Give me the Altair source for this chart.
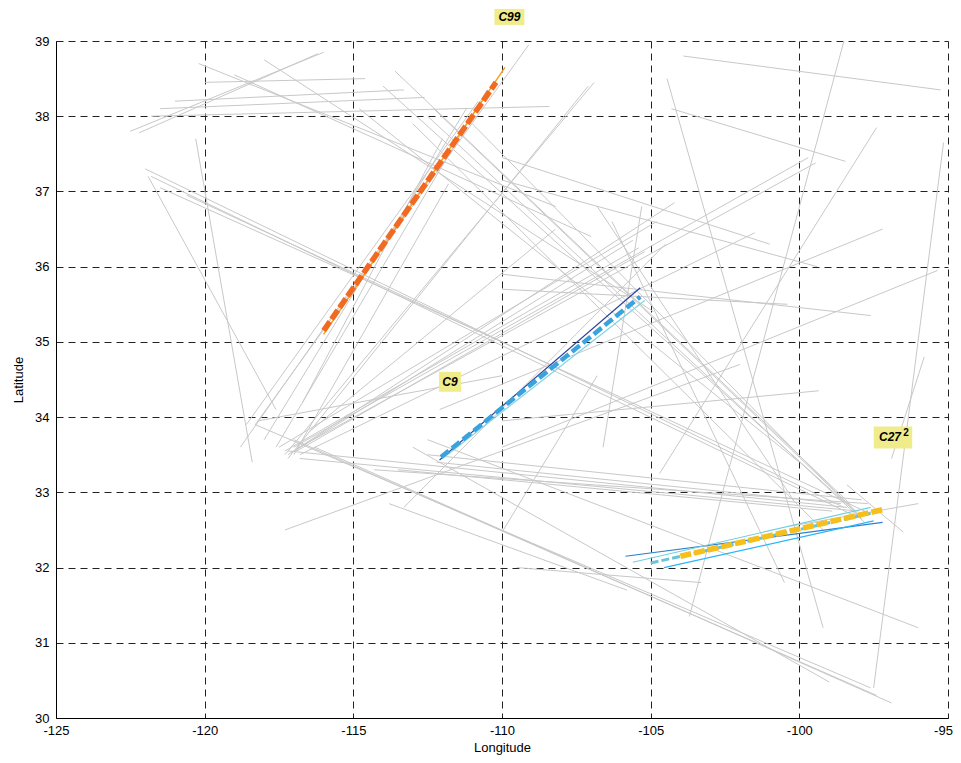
import altair as alt
import pandas as pd

# ---------------- gray background tracks (lon1, lat1, lon2, lat2) ----------------
g_lon1 = [-122.5, -122.2, -120.2, -119.0, -121.5, -121.0, -121.8, -120.0, -118.0, -113.6,
          -114.0, -112.5, -113.0, -114.8,
          -122.0, -121.8, -121.5, -120.6, -120.3, -121.9,
          -117.3, -117.2, -117.3, -117.2, -117.0, -116.9, -116.8, -117.5, -116.5, -118.0,
          -118.8, -118.6, -116.7, -118.3,
          -118.3, -117.0, -116.3, -113.0, -112.5, -117.2, -116.8, -114.3, -112.2, -112.5,
          -113.5, -113.8, -117.3, -118.2, -113.3, -110.0,
          -103.9, -104.45, -98.5, -97.4, -95.15, -95.8, -97.2, -95.35, -110.0, -110.0,
          -104.3, -110.0, -110.0, -106.8, -106.3, -110.0, -96.0, -98.4, -109.5,
          -117.1, -116.9, -105.3, -117.6, -117.0, -112.3, -111.0]
g_lat1 = [37.8, 37.78, 38.7, 38.55, 38.1, 38.2, 38.0, 38.45, 38.75, 38.6,
          38.4, 38.0, 37.9, 38.1,
          37.3, 37.2, 37.05, 36.95, 37.7, 37.2,
          33.5, 33.45, 33.55, 33.5, 33.6, 33.58, 33.5, 33.6, 33.8, 33.7,
          33.6, 33.9, 34.2, 33.9,
          33.9, 33.7, 33.6, 33.6, 33.7, 33.55, 33.45, 33.3, 33.4, 33.5,
          33.3, 32.85, 32.5, 33.95, 32.8, 32.47,
          38.8, 38.5, 39.0, 37.85, 37.65, 34.8, 36.5, 35.95, 35.9, 35.7,
          38.1, 37.45, 37.15, 36.8, 36.6, 33.95, 32.85, 33.1, 32.0,
          33.52, 33.55, 36.8, 33.6, 33.5, 38.1, 37.9]
g_lon2 = [-116.0, -116.2, -108.2, -107.0, -112.6, -113.3, -108.4, -114.6, -104.9, -98.3,
          -98.0, -97.8, -99.2, -100.0,
          -98.5, -98.2, -110.0, -97.8, -118.4, -117.6,
          -106.9, -107.1, -105.4, -104.2, -99.7, -99.45, -101.5, -104.8, -108.2, -111.2,
          -111.0, -110.8, -112.0, -109.1,
          -97.6, -97.4, -96.9, -99.0, -96.0, -98.4, -98.0, -97.7, -98.6, -97.9,
          -98.9, -105.8, -102.0, -110.0, -104.5, -106.8,
          -95.25, -99.2, -103.7, -104.7, -97.5, -96.9, -112.1, -110.0, -97.6, -100.4,
          -98.45, -101.0, -99.4, -100.2, -100.5, -99.35, -100.3, -96.5, -103.3,
          -105.6, -105.2, -106.6, -110.5, -111.8, -98.1, -97.9]
g_lat2 = [38.85, 38.83, 36.8, 36.4, 38.25, 38.35, 38.13, 38.5, 35.4, 32.85,
          32.7, 32.6, 32.5, 33.4,
          32.8, 32.7, 35.0, 32.75, 33.4, 34.1,
          38.45, 38.4, 36.25, 36.85, 37.45, 37.38, 36.45, 36.6, 36.5, 38.1,
          38.0, 38.2, 37.7, 38.95,
          30.4, 30.3, 30.2, 30.48, 31.2, 32.8, 32.75, 32.85, 32.85, 32.9,
          32.75, 31.7, 34.7, 34.55, 36.3, 34.55,
          38.35, 31.2, 31.35, 33.25, 30.4, 33.45, 34.1, 33.6, 35.35, 35.5,
          37.4, 36.3, 36.0, 32.9, 31.8, 34.35, 32.55, 32.47, 31.8,
          36.35, 36.2, 33.6, 38.35, 37.1, 32.75, 32.65]

# ---------------- highlighted tracks ----------------
c99_thin_lon = [-116.0, -109.9]
c99_thin_lat = [35.1, 38.65]
c99_dash_lon = [-116.0, -110.2]
c99_dash_lat = [35.15, 38.45]

c9_dark_lon = [-112.1, -105.35]
c9_dark_lat = [33.43, 35.72]
c9_cyan_lon = [-112.0, -105.2]
c9_cyan_lat = [33.45, 35.55]
c9_dash_lon = [-112.05, -105.35]
c9_dash_lat = [33.47, 35.6]

c27_blue_lon = [-105.85, -97.2]
c27_blue_lat = [32.15, 32.6]
c27_cyan_lon = [-105.6, -97.6]
c27_cyan_lat = [32.07, 32.8]
c27_lblue_lon = [-104.55, -97.5]
c27_lblue_lat = [32.0, 32.62]
c27_teal_lon = [-105.0, -97.6]
c27_teal_lat = [32.06, 32.72]
c27_dash_lon = [-104.0, -97.2]
c27_dash_lat = [32.15, 32.77]

# ---------------- labels ----------------
label_text = ["C99", "C9", "C27"]
label_sup = ["", "", "2"]
label_lon = [-109.75, -111.75, -96.85]
label_lat = [39.32, 34.47, 33.73]

xs = alt.Scale(domain=[-125, -95], nice=False, zero=False)
ys = alt.Scale(domain=[30, 39], nice=False, zero=False)

rows = []
for i in range(len(g_lon1)):
    rows.append({"id": i, "o": 0, "lon": g_lon1[i], "lat": g_lat1[i]})
    rows.append({"id": i, "o": 1, "lon": g_lon2[i], "lat": g_lat2[i]})
gray_df = pd.DataFrame(rows)

x_axis = alt.Axis(values=list(range(-125, -94, 5)), labelExpr="'' + datum.value",
                  title="Longitude", grid=True, ticks=False, labelPadding=6,
                  titlePadding=4, labelFlush=False, labelOverlap=False,
                  labelOffset={"condition": {"test": "datum.value == -95", "value": -5},
                               "value": 0})
y_axis = alt.Axis(values=list(range(30, 40)), labelExpr="'' + datum.value",
                  title="Latitude", grid=True, ticks=False, labelPadding=7,
                  titlePadding=9, labelFlush=False, labelOverlap=False)

gray = alt.Chart(gray_df).mark_line(color="#c8c8c8", strokeWidth=1).encode(
    x=alt.X("lon:Q", scale=xs, axis=x_axis),
    y=alt.Y("lat:Q", scale=ys, axis=y_axis),
    detail="id:N",
    order="o:Q",
)


def seg(lons, lats, color, width, dash=None, opacity=1.0):
    df = pd.DataFrame({"lon": lons, "lat": lats, "o": list(range(len(lons)))})
    kw = dict(color=color, strokeWidth=width, opacity=opacity)
    if dash is not None:
        kw["strokeDash"] = dash
    return alt.Chart(df).mark_line(**kw).encode(
        x=alt.X("lon:Q", scale=xs), y=alt.Y("lat:Q", scale=ys), order="o:Q")


layers = [
    gray,
    seg(c99_thin_lon, c99_thin_lat, "#f7a21b", 1.5),
    seg(c99_dash_lon, c99_dash_lat, "#f26a21", 5.5, [11, 3]),
    seg(c9_dark_lon, c9_dark_lat, "#2a3f9d", 1.2),
    seg(c9_cyan_lon, c9_cyan_lat, "#7fd3e3", 1.2),
    seg(c9_dash_lon, c9_dash_lat, "#3aa3dd", 4.5, [10, 4]),
    seg(c27_blue_lon, c27_blue_lat, "#2f7fd0", 1.2),
    seg(c27_cyan_lon, c27_cyan_lat, "#6fd0e0", 1.2),
    seg(c27_lblue_lon, c27_lblue_lat, "#29b6f6", 1.2),
    seg(c27_teal_lon, c27_teal_lat, "#6cc5d6", 3, [8, 3]),
    seg(c27_dash_lon, c27_dash_lat, "#f6bf1c", 5.5, [11, 3]),
]

shapes = ["M-1.875,-1H1.875V1H-1.875Z", "M-1.1,-1H1.1V1H-1.1Z", "M-1.75,-1H1.75V1H-1.75Z"]
sizes = [256, 400, 484]
for i in range(3):
    df = pd.DataFrame({"lon": [label_lon[i]], "lat": [label_lat[i]],
                       "t": [label_text[i]], "s": [label_sup[i]]})
    base = alt.Chart(df).encode(x=alt.X("lon:Q", scale=xs), y=alt.Y("lat:Q", scale=ys))
    layers.append(base.mark_point(shape=shapes[i], size=sizes[i], filled=True,
                                  color="#f0ec8c", opacity=1, strokeWidth=0))
    shift = -3 if label_sup[i] else 0
    layers.append(base.mark_text(font="Liberation Sans", fontSize=12, fontWeight="bold",
                                 fontStyle="italic", color="black", dx=shift).encode(text="t:N"))
    if label_sup[i]:
        layers.append(base.mark_text(font="Liberation Sans", fontSize=10, fontWeight="bold",
                                     color="black", dx=13, dy=-4).encode(text="s:N"))

chart = alt.layer(*layers).properties(
    width=892, height=677,
    autosize=alt.AutoSizeParams(type="none"),
    padding={"left": 48, "top": 33, "right": 5, "bottom": 45},
).configure_view(stroke=None).configure_axis(
    labelFont="Liberation Sans", labelFontSize=13, labelColor="black",
    titleFont="Liberation Sans", titleFontSize=13, titleFontWeight="normal", titleColor="black",
    domainColor="black", domainWidth=1,
    gridColor="#222222", gridDash=[7, 5], gridWidth=1, gridOpacity=1,
)

chart.save("out.html", embed_options={"renderer": "svg", "actions": False})
